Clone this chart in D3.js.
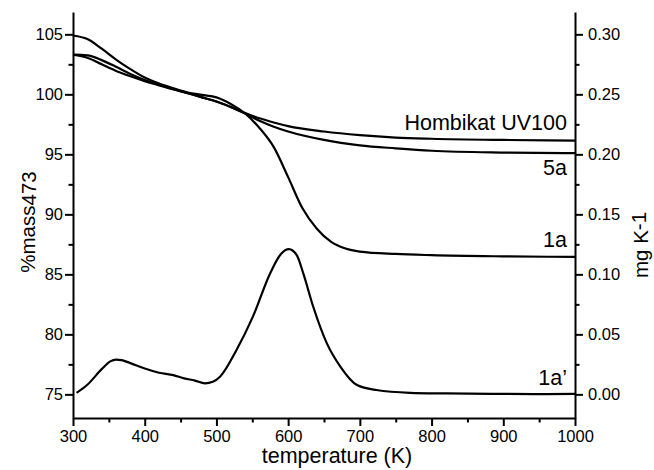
<!DOCTYPE html>
<html>
<head>
<meta charset="utf-8">
<script src="https://cdn.jsdelivr.net/npm/d3@7/dist/d3.min.js"></script>
<style>
  body { margin: 0; background: #fff; }
  svg { display: block; font-family: "Liberation Sans", Arial, sans-serif; }
  .axis path, .axis line { stroke: #000; stroke-width: 2; }
  .axis text { font-size: 16.5px; fill: #000; }
</style>
</head>
<body>
<div id="chart"></div>
<script>
// Temperature (K) sample points per series
const tempHombikat = [300, 320, 340, 360, 380, 400, 420, 440, 460, 480, 500, 520, 540, 560, 580, 600, 650, 700, 750, 800, 900, 1000];
const massHombikat = [103.3, 103.05, 102.5, 101.95, 101.5, 101.1, 100.75, 100.4, 100.1, 99.75, 99.4, 98.95, 98.45, 98.0, 97.65, 97.35, 96.9, 96.6, 96.4, 96.3, 96.2, 96.15];

const temp5a = [300, 320, 340, 360, 380, 400, 420, 440, 460, 480, 500, 520, 540, 560, 580, 600, 650, 700, 750, 800, 900, 1000];
const mass5a = [103.3, 103.25, 102.85, 102.3, 101.7, 101.2, 100.8, 100.45, 100.1, 99.75, 99.4, 98.95, 98.4, 97.8, 97.3, 96.9, 96.2, 95.75, 95.5, 95.3, 95.15, 95.1];

const temp1a = [300, 320, 340, 360, 380, 400, 420, 440, 460, 480, 500, 520, 540, 560, 580, 600, 620, 640, 660, 680, 700, 750, 800, 900, 1000];
const mass1a = [104.9, 104.6, 103.8, 102.9, 102.1, 101.4, 100.9, 100.5, 100.15, 99.95, 99.75, 99.2, 98.4, 97.2, 95.6, 93.1, 90.5, 88.8, 87.7, 87.15, 86.9, 86.7, 86.6, 86.5, 86.45];

// derivative curve 1a' (mg K-1, right axis)
const temp1aD = [305, 320, 340, 352, 360, 368, 380, 400, 420, 440, 455, 470, 484, 495, 505, 528, 551, 575, 590, 601, 612, 621, 635, 654, 673, 696, 723, 770, 820, 900, 960, 1000];
const deriv1a = [0.0013, 0.008, 0.021, 0.0275, 0.029, 0.0285, 0.026, 0.0215, 0.018, 0.016, 0.0133, 0.0115, 0.0092, 0.0105, 0.0147, 0.037, 0.065, 0.101, 0.117, 0.121, 0.116, 0.101, 0.073, 0.0425, 0.023, 0.0078, 0.0036, 0.0013, 0.0008, 0.0004, 0.0002, 0.0004];

const xTicks = [300, 400, 500, 600, 700, 800, 900, 1000];
const leftTicks = [75, 80, 85, 90, 95, 100, 105];
const rightTicks = [0.00, 0.05, 0.10, 0.15, 0.20, 0.25, 0.30];

const width = 654, height = 470;
const plot = { left: 73, right: 575, top: 12, bottom: 418 };

const svg = d3.select('#chart').append('svg')
    .attr('width', width)
    .attr('height', height);

const x = d3.scaleLinear().domain([300, 1000]).range([plot.left, plot.right]);
const yL = d3.scaleLinear().domain([73.03, 106.86]).range([plot.bottom, plot.top]);
const yR = d3.scaleLinear().domain([-0.0197, 0.3186]).range([plot.bottom, plot.top]);

// minor ticks first, then major ticks with labels
function minorAxis(axis, scale, values, g) {
    g.call(axis(scale).tickValues(values).tickSize(4.5).tickFormat(''))
        .call(s => s.select('.domain').remove());
}

const gx = svg.append('g').attr('class', 'axis')
    .attr('transform', `translate(0,${plot.bottom})`);
minorAxis(d3.axisBottom, x, d3.range(350, 1000, 100), gx.append('g'));
gx.append('g')
    .call(d3.axisBottom(x).tickValues(xTicks).tickSize(8).tickSizeOuter(0).tickPadding(4).tickFormat(d3.format('d')));

const gl = svg.append('g').attr('class', 'axis')
    .attr('transform', `translate(${plot.left},0)`);
minorAxis(d3.axisLeft, yL, d3.range(77.5, 106, 5), gl.append('g'));
gl.append('g')
    .call(d3.axisLeft(yL).tickValues(leftTicks).tickSize(8).tickSizeOuter(0).tickPadding(2).tickFormat(d3.format('d')));

const gr = svg.append('g').attr('class', 'axis')
    .attr('transform', `translate(${plot.right},0)`);
minorAxis(d3.axisRight, yR, d3.range(0.025, 0.31, 0.05), gr.append('g'));
gr.append('g')
    .call(d3.axisRight(yR).tickValues(rightTicks).tickSize(8).tickSizeOuter(0).tickPadding(5).tickFormat(d3.format('.2f')));

svg.selectAll('.axis .domain').attr('stroke-width', 2);

// curves
const lineL = d3.line().x(d => x(d[0])).y(d => yL(d[1])).curve(d3.curveMonotoneX);
const lineR = d3.line().x(d => x(d[0])).y(d => yR(d[1])).curve(d3.curveMonotoneX);

const series = [
    { t: tempHombikat, v: massHombikat, line: lineL },
    { t: temp5a, v: mass5a, line: lineL },
    { t: temp1a, v: mass1a, line: lineL },
    { t: temp1aD, v: deriv1a, line: lineR }
];

svg.append('g').selectAll('path')
    .data(series)
    .join('path')
    .attr('d', s => s.line(s.t.map((t, i) => [t, s.v[i]])))
    .attr('fill', 'none')
    .attr('stroke', '#000')
    .attr('stroke-width', 2.2)
    .attr('stroke-linejoin', 'round');

// series labels
const labels = [
    { text: 'Hombikat UV100', y: 130 },
    { text: '5a', y: 175 },
    { text: '1a', y: 247 },
    { text: '1a\u2019', y: 385 }
];
svg.append('g').selectAll('text')
    .data(labels)
    .join('text')
    .attr('x', 567)
    .attr('y', d => d.y)
    .attr('text-anchor', 'end')
    .attr('font-size', 21.5)
    .text(d => d.text);

// axis titles
svg.append('text')
    .attr('x', 337)
    .attr('y', 463)
    .attr('text-anchor', 'middle')
    .attr('font-size', 21.5)
    .text('temperature (K)');

const yTitle = svg.append('text')
    .attr('transform', 'translate(35,222) rotate(-90)')
    .attr('text-anchor', 'middle')
    .attr('font-size', 20.5);
yTitle.append('tspan').text('%mass');
yTitle.append('tspan').attr('dy', 1).text('473');

const rTitle = svg.append('text')
    .attr('transform', 'translate(648,245) rotate(-90)')
    .attr('text-anchor', 'middle')
    .attr('font-size', 20.5);
rTitle.append('tspan').text('mg K');
rTitle.append('tspan').attr('dy', -2).text('-1');
</script>
</body>
</html>
